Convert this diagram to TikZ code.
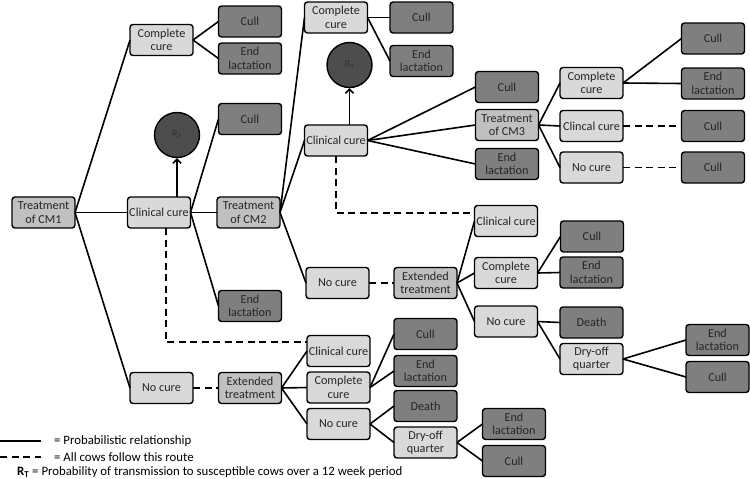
\documentclass[tikz,border=0pt]{standalone}
\usepackage{fontspec}
\setmainfont{Carlito}
\usetikzlibrary{arrows.meta}
\definecolor{lt}{HTML}{D9D9D9}
\definecolor{md}{HTML}{C0C0C0}
\definecolor{dk}{HTML}{7F7F7F}
\definecolor{cir}{HTML}{4D4D4D}
\begin{document}
\begin{tikzpicture}[x=1pt,y=-1pt,
 box/.style={draw, rounded corners=3pt, line width=1.4pt, minimum width=63pt, minimum height=31pt, inner xsep=0pt, inner ysep=1pt, align=center, font=\fontsize{12.2}{13.4}\selectfont, outer sep=0pt, text=black!85},
 light/.style={box, fill=lt},
 mid/.style={box, fill=md},
 dark/.style={box, fill=dk},
 rt/.style={circle, draw, line width=1.4pt, fill=cir, minimum size=45pt, inner sep=0pt, font=\fontsize{11}{12}\selectfont, text=black!80},
 link/.style={line width=1.6pt},
 route/.style={line width=1.6pt, dash pattern=on 7pt off 4.5pt},
 legend/.style={anchor=west, inner sep=0pt, font=\fontsize{12.8}{14}\selectfont},
]
\useasboundingbox (0,0) rectangle (750,479);

% first level
\node[mid]   (t1)    at (43.5,212.5) {Treatment\\of CM1};
\node[light] (comp1) at (161.5,40)   {Complete\\cure};
\node[light] (cc1)   at (159,212.5)  {Clinical cure};
\node[light] (nc1)   at (161.5,388)  {No cure};
\node[dark]  (cull1a) at (250,21.5)  {Cull};
\node[dark]  (end1a)  at (250,58.5)  {End\\lactation};
\node[dark]  (cull1b) at (250,119)   {Cull};
\node[mid]   (t2)     at (248.5,212.5) {Treatment\\of CM2};
\node[dark]  (end1b)  at (250,306)   {End\\lactation};
\node[mid]   (ext1)   at (250,388)   {Extended\\treatment};
\node[rt]    (rt1)    at (177,135)   {R\textsubscript{T}};

% CM2 level
\node[light] (comp2) at (336,17.5)  {Complete\\cure};
\node[light] (cc2)   at (336,140.5) {Clinical cure};
\node[light] (nc2)   at (337.5,283) {No cure};
\node[dark]  (cull2a) at (421.5,17.5) {Cull};
\node[dark]  (end2a)  at (421.5,61)   {End\\lactation};
\node[rt]    (rt2)    at (349.5,65)   {R\textsubscript{T}};
\node[dark]  (cull2b) at (507,87)     {Cull};
\node[mid]   (t3)     at (507,125)    {Treatment\\of CM3};
\node[dark]  (end2b)  at (507,164)    {End\\lactation};
\node[mid]   (ext2)   at (425.5,283)  {Extended\\treatment};

% CM3 level
\node[light] (comp3) at (591.5,83)    {Complete\\cure};
\node[light] (clin3) at (591.5,126)   {Clincal cure};
\node[light] (nc3)   at (591.5,167.5) {No cure};
\node[dark]  (cull3a) at (713,38.5)   {Cull};
\node[dark]  (end3a)  at (713,83.5)   {End\\lactation};
\node[dark]  (cull3b) at (713,126)    {Cull};
\node[dark]  (cull3c) at (713,167.5)  {Cull};

% extended treatment after CM2
\node[light] (ccE)   at (506,221)    {Clinical cure};
\node[light] (compE) at (506,273)    {Complete\\cure};
\node[light] (ncE)   at (506,321.5)  {No cure};
\node[dark]  (cullE) at (592,236.5)  {Cull};
\node[dark]  (endE)  at (591.5,272.5) {End\\lactation};
\node[dark]  (deathE) at (591.5,322.5) {Death};
\node[light] (dryE)  at (591.5,359)  {Dry-off\\quarter};
\node[dark]  (endE2) at (717.5,340)  {End\\lactation};
\node[dark]  (cullE2) at (717.5,377) {Cull};

% extended treatment after CM1
\node[light] (ccL)   at (338.5,351)   {Clinical cure};
\node[light] (compL) at (338.5,387.5) {Complete\\cure};
\node[light] (ncL)   at (338.5,424)   {No cure};
\node[dark]  (cullL) at (425.5,334)   {Cull};
\node[dark]  (endL)  at (425.5,371)   {End\\lactation};
\node[dark]  (deathL) at (425.5,406)  {Death};
\node[light] (dryL)  at (425.5,442.5) {Dry-off\\quarter};
\node[dark]  (endL2) at (514,424)     {End\\lactation};
\node[dark]  (cullL2) at (514,461)    {Cull};

% connectors
\draw[link] (t1.east) -- (comp1.west);
\draw[link] (t1.east) -- (cc1.west);
\draw[link] (t1.east) -- (nc1.west);
\draw[link] (comp1.east) -- (cull1a.west);
\draw[link] (comp1.east) -- (end1a.west);
\draw[link] (cc1.east) -- (cull1b.west);
\draw[link] (cc1.east) -- (t2.west);
\draw[link] (cc1.east) -- (end1b.west);
\draw[link,-{Straight Barb[length=4pt,width=8pt]}] (cc1.north -| rt1.center) -- (rt1.south);
\draw[route] ([xshift=7pt]cc1.south) |- ([yshift=9pt]ccL.west);
\draw[route] (nc1.east) -- (ext1.west);

\draw[link] (t2.east) -- (comp2.west);
\draw[link] (t2.east) -- (cc2.west);
\draw[link] (t2.east) -- (nc2.west);
\draw[link] (comp2.east) -- (cull2a.west);
\draw[link] (comp2.east) -- (end2a.west);
\draw[link,-{Straight Barb[length=4pt,width=8pt]}] (cc2.north -| rt2.center) -- (rt2.south);
\draw[link] (cc2.east) -- (cull2b.west);
\draw[link] (cc2.east) -- (t3.west);
\draw[link] (cc2.east) -- (end2b.west);
\draw[route] (cc2.south) |- ([yshift=8pt]ccE.west);
\draw[route] (nc2.east) -- (ext2.west);

\draw[link] (t3.east) -- (comp3.west);
\draw[link] (t3.east) -- (clin3.west);
\draw[link] (t3.east) -- (nc3.west);
\draw[link] (comp3.east) -- (cull3a.west);
\draw[link] (comp3.east) -- (end3a.west);
\draw[route] (clin3.east) -- (cull3b.west);
\draw[route] (nc3.east) -- (cull3c.west);

\draw[link] (ext2.east) -- (ccE.west);
\draw[link] (ext2.east) -- (compE.west);
\draw[link] (ext2.east) -- (ncE.west);
\draw[link] (compE.east) -- (cullE.west);
\draw[link] (compE.east) -- (endE.west);
\draw[link] (ncE.east) -- (deathE.west);
\draw[link] (ncE.east) -- (dryE.west);
\draw[link] (dryE.east) -- (endE2.west);
\draw[link] (dryE.east) -- (cullE2.west);

\draw[link] (ext1.east) -- (ccL.west);
\draw[link] (ext1.east) -- (compL.west);
\draw[link] (ext1.east) -- (ncL.west);
\draw[link] (compL.east) -- (cullL.west);
\draw[link] (compL.east) -- (endL.west);
\draw[link] (ncL.east) -- (deathL.west);
\draw[link] (ncL.east) -- (dryL.west);
\draw[link] (dryL.east) -- (endL2.west);
\draw[link] (dryL.east) -- (cullL2.west);

% legend
\coordinate (la) at (0,441);
\coordinate (lb) at (41,441);
\coordinate (lc) at (0,457);
\coordinate (ld) at (41,457);
\draw[link] (la) -- (lb);
\draw[route] (lc) -- (ld);
\node[legend] (lt1) at (54,441) {= Probabilistic relationship};
\node[legend] (lt2) at (54,457) {= All cows follow this route};
\node[legend] (lt3) at (17,472) {\textbf{R\textsubscript{T}} = Probability of transmission to susceptible cows over a 12 week period};
\end{tikzpicture}
\end{document}
